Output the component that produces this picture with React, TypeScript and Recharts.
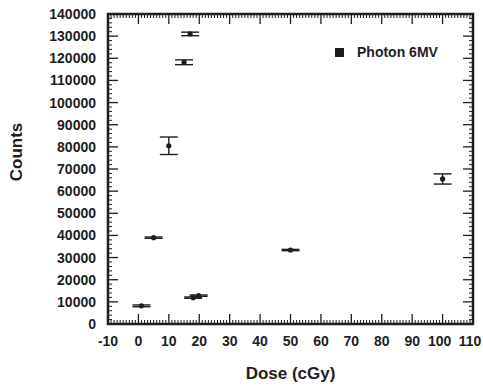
import {
  ScatterChart,
  Scatter,
  XAxis,
  YAxis,
  ErrorBar,
  Legend,
  ReferenceArea,
} from "recharts";

const doses = [1, 5, 10, 15, 17, 18, 19.8, 50, 100];
const counts = [8200, 39000, 80500, 118200, 131000, 11900, 12800, 33400, 65500];
const countErrors = [400, 300, 3950, 1100, 800, 300, 300, 300, 2300];

// tick marks: labelled every 10 cGy / 10000 counts, minor every 1 cGy / 2000 counts
const xTicks = Array.from({ length: 121 }, (_, i) => i - 10);
const yTicks = Array.from({ length: 71 }, (_, i) => i * 2000);
const xLabelStep = 10;
const yLabelStep = 10000;

const seriesName = "Photon 6MV";

const data = doses.map((d, i) => ({ dose: d, counts: counts[i], err: countErrors[i] }));

const FONT = '"Liberation Sans", Arial, sans-serif';
const INK = "#1e1e1e";
const tickFont = { fontSize: 14, fontWeight: 700, fill: INK, fontFamily: FONT };
const GAP = 12;

const CHART_W = 483;
const CHART_H = 386;
const MARGIN = { top: 14, right: 10, bottom: 0, left: 0 };
// plot edges, from the margins: used to mirror the ticks on top and right
const PLOT_TOP = MARGIN.top;
const PLOT_RIGHT = CHART_W - MARGIN.right;

const tickLen = (major: boolean) => (major ? 10 : 4);
const tickW = (major: boolean) => (major ? 1.3 : 1);

function BottomTick(props: any) {
  const x = Number(props.x);
  const y = Number(props.y);
  const v = props.payload.value;
  const isMajor = v % xLabelStep === 0;
  const axisY = y - GAP;
  const len = tickLen(isMajor);
  // the two widest labels sit a little left of their tick in the original
  const shift = v >= 100 ? -3 : 0;
  return (
    <g>
      <path d={`M${x},${axisY}V${axisY - len}`} stroke={INK} strokeWidth={tickW(isMajor)} fill="none" />
      <path d={`M${x},${PLOT_TOP}V${PLOT_TOP + len}`} stroke={INK} strokeWidth={tickW(isMajor)} fill="none" />
      {isMajor && (
        <text x={x + shift} y={y} dy="0.71em" textAnchor="middle" style={tickFont}>
          {v}
        </text>
      )}
    </g>
  );
}

function LeftTick(props: any) {
  const x = Number(props.x);
  const y = Number(props.y);
  const v = props.payload.value;
  const isMajor = v % yLabelStep === 0;
  const axisX = x + GAP;
  const len = tickLen(isMajor);
  return (
    <g>
      <path d={`M${axisX},${y}H${axisX + len}`} stroke={INK} strokeWidth={tickW(isMajor)} fill="none" />
      <path d={`M${PLOT_RIGHT},${y}H${PLOT_RIGHT - len}`} stroke={INK} strokeWidth={tickW(isMajor)} fill="none" />
      {isMajor && (
        <text x={x} y={y} dy="0.36em" textAnchor="end" style={tickFont}>
          {v}
        </text>
      )}
    </g>
  );
}

function LegendBox({ payload }: any) {
  return (
    <div style={{ display: "flex", alignItems: "center", fontFamily: FONT }}>
      {(payload || []).filter((p: any) => p.type !== "none").map((p: any) => (
        <div key={p.value} style={{ display: "flex", alignItems: "center" }}>
          <span
            style={{ width: 9, height: 9, background: INK, display: "inline-block", marginRight: 13 }}
          />
          <span style={{ fontSize: 14, fontWeight: 700, color: INK }}>{p.value}</span>
        </div>
      ))}
    </div>
  );
}

const Dot = ({ cx, cy }: any) => <circle cx={cx} cy={cy} r={2.6} fill={INK} />;

export default function App() {
  const xDomain: [number, number] = [-10, 110];
  const yDomain: [number, number] = [0, 140000];
  return (
    <div style={{ position: "absolute", left: 0, top: 0 }}>
      <ScatterChart
        width={CHART_W}
        height={CHART_H}
        margin={MARGIN}
        style={{ overflow: "visible" }}
      >
        <XAxis
          xAxisId="main"
          type="number"
          dataKey="dose"
          domain={xDomain}
          ticks={xTicks}
          interval={0}
          height={62}
          tickSize={0}
          tickMargin={GAP}
          tickLine={false}
          axisLine={false}
          tick={<BottomTick />}
          allowDataOverflow
          label={{
            value: "Dose (cGy)",
            position: "insideBottom",
            offset: 7,
            style: { fontSize: 17, fontWeight: 700, fill: INK, fontFamily: FONT },
          }}
        />
        <YAxis
          yAxisId="main"
          type="number"
          dataKey="counts"
          domain={yDomain}
          ticks={yTicks}
          interval={0}
          width={108}
          tickSize={0}
          tickMargin={GAP}
          tickLine={false}
          axisLine={false}
          tick={<LeftTick />}
          allowDataOverflow
          label={{
            content: () => (
              <text
                x={16.5}
                y={152}
                transform="rotate(-90, 16.5, 152)"
                textAnchor="middle"
                dominantBaseline="central"
                style={{ fontSize: 17, fontWeight: 700, fill: INK, fontFamily: FONT }}
              >
                Counts
              </text>
            ),
          }}
        />

        <ReferenceArea
          xAxisId="main"
          yAxisId="main"
          x1={-10}
          x2={110}
          y1={0}
          y2={140000}
          fill="none"
          stroke={INK}
          strokeWidth={2.5}
          ifOverflow="visible"
        />

        <Legend
          layout="horizontal"
          verticalAlign="middle"
          align="center"
          content={<LegendBox />}
          wrapperStyle={{ position: "absolute", left: 335, top: 44, width: "auto" }}
        />

        <Scatter
          xAxisId="main"
          yAxisId="main"
          name={seriesName}
          data={data}
          fill={INK}
          shape={<Dot />}
          legendType="square"
          isAnimationActive={false}
        >
          <ErrorBar dataKey="err" direction="y" width={9} stroke={INK} strokeWidth={1.4} />
        </Scatter>
      </ScatterChart>
    </div>
  );
}
